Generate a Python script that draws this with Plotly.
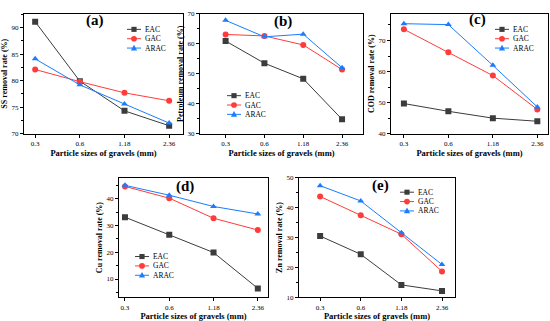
import plotly.graph_objects as go

x_labels = ["0.3", "0.6", "1.18", "2.36"]
series_names = ["EAC", "GAC", "ARAC"]

ss_eac = [91.1, 79.9, 74.3, 71.5]
ss_gac = [82.1, 79.8, 77.7, 76.2]
ss_arac = [84.1, 79.2, 75.6, 72.0]

pet_eac = [60.9, 53.5, 48.3, 34.8]
pet_gac = [63.1, 62.6, 59.6, 51.4]
pet_arac = [67.8, 62.3, 63.2, 52.0]

cod_eac = [49.7, 47.2, 45.0, 44.0]
cod_gac = [73.6, 66.2, 58.7, 47.8]
cod_arac = [75.4, 75.1, 62.0, 48.6]

cu_eac = [33.1, 26.5, 19.9, 6.5]
cu_gac = [44.6, 40.2, 32.7, 28.3]
cu_arac = [45.0, 41.3, 37.1, 34.3]

zn_eac = [30.5, 24.4, 14.2, 12.2]
zn_gac = [43.7, 37.4, 31.1, 18.7]
zn_arac = [47.3, 42.2, 31.6, 21.0]

panel_labels = ["(a)", "(b)", "(c)", "(d)", "(e)"]
y_titles = ["SS removal rate (%)", "Petroleum removal rate (%)", "COD removal rate (%)",
            "Cu removal rate (%)", "Zn removal rate (%)"]
x_title = "Particle sizes of gravels (mm)"

W, H = 550, 321
FONT = "Liberation Serif"

# panel geometry in pixels: (left, right, top, bottom)
boxes = [(24, 183, 10, 133), (200, 363, 10, 133), (391, 548, 10, 133),
         (119, 268, 178, 301), (299, 455, 178, 301)]
xranges = [[-0.25, 3.31], [-0.66, 3.54], [-0.29, 3.24], [-0.135, 3.23], [-0.52, 3.32]]
yranges = [[70, 92.6], [30, 70], [40, 78.6], [3.1, 47.9], [10, 50]]
ydticks = [5, 10, 10, 10, 10]
title_pos = [(95, 17), (283, 18), (477, 16), (185, 187), (380, 186)]
# legend: (line start x, first row y) in pixels
legend_pos = [(127, 26), (227, 94), (495, 26), (135, 259), (400, 193)]
LEG_LINE = 14
LEG_ROW = 9.6

data = [
    (ss_eac, ss_gac, ss_arac),
    (pet_eac, pet_gac, pet_arac),
    (cod_eac, cod_gac, cod_arac),
    (cu_eac, cu_gac, cu_arac),
    (zn_eac, zn_gac, zn_arac),
]

styles = [
    dict(color="#3c3c3c", symbol="square"),
    dict(color="#ff3b3b", symbol="circle"),
    dict(color="#1a7cff", symbol="triangle-up"),
]


def px(x):
    return x / W


def py(y):
    return 1 - y / H


fig = go.Figure()
shapes = []
annotations = []
layout = dict(
    width=W, height=H, margin=dict(l=0, r=0, t=0, b=0),
    paper_bgcolor="white", plot_bgcolor="white",
    font=dict(family=FONT, color="black"),
    showlegend=False,
)

for i, vals in enumerate(data):
    n = "" if i == 0 else str(i + 1)
    xa, ya = "x" + n, "y" + n
    for name, v, st in zip(series_names, vals, styles):
        fig.add_trace(go.Scatter(
            x=x_labels, y=v, name=name, mode="lines+markers",
            line=dict(color=st["color"], width=1),
            marker=dict(symbol=st["symbol"], size=6, color=st["color"]),
            xaxis=xa, yaxis=ya,
        ))
    l, r, t, b = boxes[i]
    layout["xaxis" + n] = dict(
        domain=[px(l), px(r)], anchor=ya, type="category",
        range=xranges[i], showline=True, linecolor="black", linewidth=1,
        mirror=True, ticks="outside", ticklen=3, tickcolor="black",
        ticklabelstandoff=0,
        showgrid=False, zeroline=False,
        tickfont=dict(family=FONT, size=7),
        title=dict(text="<b>" + x_title + "</b>", font=dict(family=FONT, size=8.5), standoff=0),
    )
    layout["yaxis" + n] = dict(
        domain=[py(b), py(t)], anchor=xa,
        range=yranges[i], dtick=ydticks[i], showline=True, linecolor="black", linewidth=1,
        mirror=True, ticks="outside", ticklen=3, tickcolor="black",
        minor=dict(ticks="outside", ticklen=2, dtick=ydticks[i] / 2, tickcolor="black"),
        showgrid=False, zeroline=False,
        tickfont=dict(family=FONT, size=7),
        title=dict(text="<b>" + y_titles[i] + "</b>", font=dict(family=FONT, size=8), standoff=2),
    )
    # custom compact legend
    lx, ly = legend_pos[i]
    for k, (name, st) in enumerate(zip(series_names, styles)):
        yy = ly + k * LEG_ROW
        c = st["color"]
        shapes.append(dict(type="line", xref="paper", yref="paper",
                           x0=px(lx), x1=px(lx + LEG_LINE), y0=py(yy), y1=py(yy),
                           line=dict(color=c, width=1)))
        mx = lx + LEG_LINE / 2
        s = 2.6
        if st["symbol"] == "square":
            shapes.append(dict(type="rect", xref="paper", yref="paper",
                               x0=px(mx - s), x1=px(mx + s), y0=py(yy + s), y1=py(yy - s),
                               fillcolor=c, line=dict(width=0)))
        elif st["symbol"] == "circle":
            shapes.append(dict(type="circle", xref="paper", yref="paper",
                               x0=px(mx - s - 0.3), x1=px(mx + s + 0.3), y0=py(yy + s + 0.3), y1=py(yy - s - 0.3),
                               fillcolor=c, line=dict(width=0)))
        else:
            path = "M {} {} L {} {} L {} {} Z".format(
                px(mx - s - 0.5), py(yy + s - 0.2), px(mx + s + 0.5), py(yy + s - 0.2), px(mx), py(yy - s - 0.8))
            shapes.append(dict(type="path", xref="paper", yref="paper", path=path,
                               fillcolor=c, line=dict(width=0)))
        annotations.append(dict(text=name, x=px(lx + LEG_LINE + 2), y=py(yy),
                                xref="paper", yref="paper", showarrow=False,
                                xanchor="left", yanchor="middle",
                                font=dict(family=FONT, size=7.5, color="black")))
    tx, ty = title_pos[i]
    annotations.append(dict(
        text="<b>" + panel_labels[i] + "</b>", x=px(tx), y=py(ty),
        xref="paper", yref="paper", showarrow=False,
        font=dict(family=FONT, size=15, color="black"),
        xanchor="center", yanchor="middle",
    ))

layout["shapes"] = shapes
layout["annotations"] = annotations
fig.update_layout(**layout)
fig.write_html("out.html", config={"displayModeBar": False},
               post_script="document.body.style.margin='0';")
